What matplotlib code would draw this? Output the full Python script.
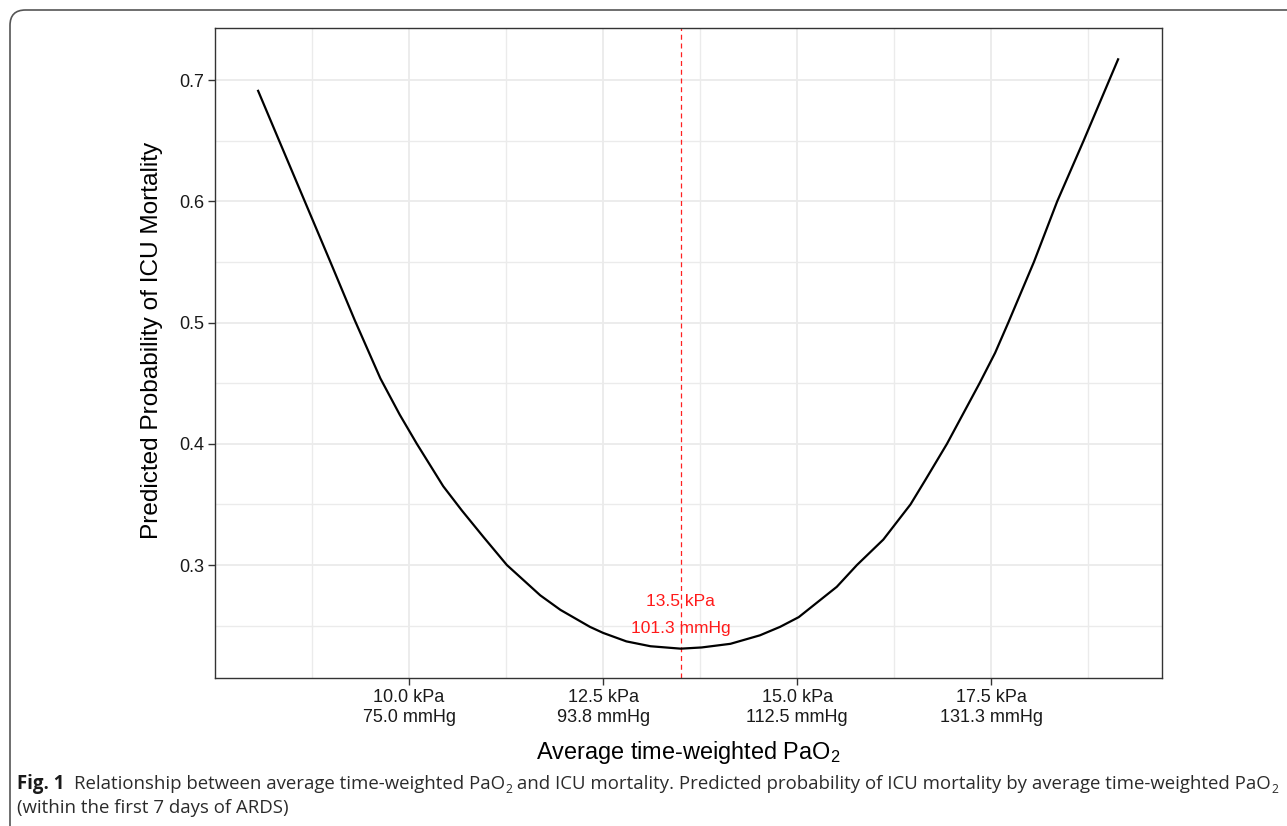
import matplotlib
matplotlib.use("Agg")
import matplotlib.pyplot as plt
from matplotlib.patches import FancyBboxPatch

# ---- data ----
pao2_kpa = [8.05, 8.32, 8.65, 8.98, 9.30, 9.63, 9.88, 10.10, 10.44, 10.68, 10.96,
            11.26, 11.69, 11.95, 12.33, 12.50, 12.80, 13.11, 13.50, 13.77, 14.14, 14.52, 14.78,
            15.02, 15.51, 15.77, 16.11, 16.46, 16.65, 16.93, 17.35,
            17.55, 17.72, 18.05, 18.35, 18.69, 19.14]
mortality = [0.692, 0.651, 0.601, 0.551, 0.502, 0.454, 0.424, 0.400, 0.365, 0.345, 0.323,
             0.300, 0.275, 0.263, 0.249, 0.244, 0.237, 0.233, 0.231, 0.232, 0.235, 0.242, 0.249,
             0.257, 0.282, 0.300, 0.321, 0.350, 0.370, 0.400, 0.450,
             0.475, 0.500, 0.550, 0.600, 0.650, 0.718]
xticks = [10.0, 12.5, 15.0, 17.5]
xticklabels = ["10.0 kPa\n75.0 mmHg", "12.5 kPa\n93.8 mmHg",
               "15.0 kPa\n112.5 mmHg", "17.5 kPa\n131.3 mmHg"]
yticks = [0.3, 0.4, 0.5, 0.6, 0.7]
optimum_kpa = 13.5
optimum_labels = ["13.5 kPa", "101.3 mmHg"]

plt.rcParams['font.family'] = ['Liberation Sans', 'DejaVu Sans']
plt.rcParams['mathtext.fontset'] = 'custom'
plt.rcParams['mathtext.rm'] = 'Liberation Sans'
plt.rcParams['mathtext.it'] = 'Liberation Sans:italic'

W, H = 1287, 826
fig = plt.figure(figsize=(W / 100, H / 100), dpi=100)

# outer rounded frame (clipped at right/bottom like the reference)
frame = FancyBboxPatch((10 / W, -60 / H), (W + 60) / W, (H + 60 - 10) / H,
                       boxstyle="round,pad=0,rounding_size=0.012",
                       transform=fig.transFigure, fill=False,
                       edgecolor="#555555", linewidth=1.2, mutation_aspect=W / H)
fig.patches.append(frame)

L, R, T, B = 215, 1162, 28, 678
ax = fig.add_axes([L / W, 1 - B / H, (R - L) / W, (B - T) / H])

ax.plot(pao2_kpa, mortality, color="black", linewidth=1.6, zorder=3,
        solid_joinstyle="round", solid_capstyle="butt")
ax.axvline(optimum_kpa, color="#FF2020", linewidth=0.9, linestyle=(0, (4, 3)), zorder=2)
ax.text(optimum_kpa, 0.270, optimum_labels[0], color="#FF1A1A", fontsize=12.5,
        ha="center", va="center", zorder=4)
ax.text(optimum_kpa, 0.248, optimum_labels[1], color="#FF1A1A", fontsize=12.5,
        ha="center", va="center", zorder=4)

ax.set_xlim(7.5, 19.7)
ax.set_ylim(0.2068, 0.743)
ax.set_xticks(xticks)
ax.set_xticklabels(xticklabels)
ax.set_yticks(yticks)
ax.set_yticklabels([f"{v:.1f}" for v in yticks])
ax.set_xticks([8.75, 11.25, 13.75, 16.25, 18.75], minor=True)
ax.set_yticks([0.25, 0.35, 0.45, 0.55, 0.65], minor=True)
ax.grid(which="major", color="#EBEBEB", linewidth=1.3, zorder=0)
ax.grid(which="minor", color="#EBEBEB", linewidth=1.0, zorder=0)
ax.set_axisbelow(True)
ax.tick_params(which="major", direction="out", length=5, width=1.0, color="#333333",
               labelsize=13, labelcolor="#1a1a1a", pad=3)
ax.tick_params(which="minor", length=0)
for s in ax.spines.values():
    s.set_color("#333333")
    s.set_linewidth(1.0)

fig.text(688 / W, 1 - 752 / H, "Average time-weighted PaO$_2$", fontsize=16.9,
         ha="center", va="center", color="black")
fig.text(152 / W, 1 - 340 / H, "Predicted Probability of ICU Mortality", fontsize=17.6,
         ha="center", va="center", rotation=90, color="black")

# ---- caption ----
cap_font = ['Open Sans', 'DejaVu Sans']
cap_size = 13.4
cap_color = "#2b2b2b"
renderer = fig.canvas.get_renderer()


def place(x_px, y_px, s, **kw):
    t = fig.text(x_px / W, 1 - y_px / H, s, ha="left", va="baseline", **kw)
    bb = t.get_window_extent(renderer=renderer)
    return x_px + bb.width


base1, base2 = 789, 813
x = 17
x = place(x, base1, "Fig. 1", family=cap_font, fontsize=cap_size, weight="bold", color="#1a1a1a")
x += 10
segs = [("Relationship between average time-weighted PaO", False),
        ("2", True),
        (" and ICU mortality. Predicted probability of ICU mortality by average time-weighted PaO", False),
        ("2", True)]
for s, sub in segs:
    if sub:
        x = place(x, base1 + 4, s, family=cap_font, fontsize=cap_size * 0.65, color=cap_color)
    else:
        x = place(x, base1, s, family=cap_font, fontsize=cap_size, color=cap_color)
place(17, base2, "(within the first 7 days of ARDS)", family=cap_font, fontsize=cap_size, color=cap_color)

fig.savefig("out.png", dpi=100)
